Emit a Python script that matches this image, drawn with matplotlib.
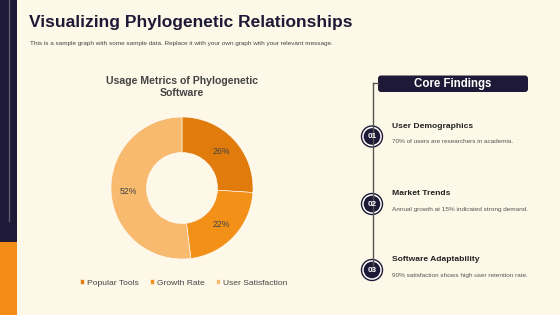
import matplotlib.pyplot as plt
from matplotlib.patches import Rectangle, FancyBboxPatch, Circle

plt.rcParams['font.family'] = ['Liberation Sans', 'DejaVu Sans']

BG = "#FEF8E8"
NAVY = "#1E1936"

categories = ["Popular Tools", "Growth Rate", "User Satisfaction"]
shares = [26, 22, 52]
colors = ["#E07B0C", "#F39018", "#F7BA6E"]

findings = ["User Demographics", "Market Trends", "Software Adaptability"]
notes = ["70% of users are researchers in academia.",
         "Annual growth at 15% indicated strong demand.",
         "90% satisfaction shows high user retention rate."]
badges = ["01", "02", "03"]

W, H = 560, 315
fig = plt.figure(figsize=(5.6, 3.15), dpi=100, facecolor=BG)

# background layer in pixel coordinates (y measured from top)
bg = fig.add_axes([0, 0, 1, 1])
bg.set_xlim(0, W)
bg.set_ylim(H, 0)
bg.axis("off")

bg.add_patch(Rectangle((0, 0), 17, 242, color=NAVY, lw=0))
bg.add_patch(Rectangle((0, 242), 17, 73, color="#F38D17", lw=0))
bg.plot([8.5, 8.5], [0, 221], color="#5E5A70", lw=1)

bg.text(29, 22, "Visualizing Phylogenetic Relationships", fontsize=12.5,
        fontweight="bold", color=NAVY, va="center", ha="left")
bg.text(30, 44, "This is a sample graph with some sample data. Replace it with your own graph with your relevant message.",
        fontsize=4.6, color="#444444", va="center", ha="left")

# donut title
bg.text(182, 86.5, "Usage Metrics of Phylogenetic\nSoftware", fontsize=7.6,
        fontweight="bold", color="#444444", ha="center", va="center",
        linespacing=1.25)

# right panel
bg.plot([373, 373], [83, 270], color="#555555", lw=1)
bg.plot([373, 378], [83, 83], color="#555555", lw=1)
bg.add_patch(FancyBboxPatch((378, 75.5), 150, 16.5, boxstyle="round,pad=0,rounding_size=3",
                            fc=NAVY, ec="none"))
bg.text(453, 84, "Core Findings", fontsize=8.3, fontweight="bold", color="white",
        ha="center", va="center")

ys = [136.5, 204, 270]
for y, title, note, badge in zip(ys, findings, notes, badges):
    bg.add_patch(Circle((372, y), 10.5, fc="white", ec=NAVY, lw=1))
    bg.add_patch(Circle((372, y), 8.3, fc=NAVY, ec="none"))
    bg.text(372, y + 0.3, badge, fontsize=5.8, fontweight="bold", color="white",
            ha="center", va="center")
    bg.text(392, y - 10.5, title, fontsize=6.1, fontweight="bold", color="#222222",
            ha="left", va="center")
    bg.text(392, y + 5, note, fontsize=4.6, color="#555555", ha="left", va="center")

# donut chart
ax = fig.add_axes([111 / W, (H - 259) / H, 142 / W, 142 / H])
ax.set_facecolor("none")
wedges, texts, autotexts = ax.pie(shares, colors=colors, startangle=90, counterclock=False,
                                  wedgeprops=dict(width=0.5, edgecolor="white", linewidth=0.4),
                                  autopct="%d%%", pctdistance=0.76,
                                  textprops=dict(fontsize=6.3, color="#444444"))
ax.set_xlim(-1, 1)
ax.set_ylim(-1, 1)

leg = fig.legend(wedges, categories, loc="center", bbox_to_anchor=(184 / W, 1 - 283 / H),
                 ncol=3, frameon=False, fontsize=6.1, handlelength=0.5, handleheight=0.5,
                 handletextpad=0.35, columnspacing=1.3)
for t in leg.get_texts():
    t.set_color("#444444")

fig.savefig("out.png", dpi=100, facecolor=BG)
